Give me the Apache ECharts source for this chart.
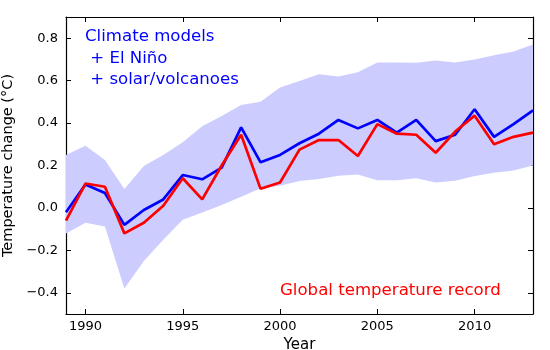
<!DOCTYPE html>
<html>
  <head>
    <title></title>
    <meta charset="UTF-8" />
    <script src="https://cdn.jsdelivr.net/npm/echarts@6/dist/echarts.min.js"></script>
  </head>
  <body style="margin:0">
    <div id="main"></div>
    <script>
      const width = 550;
      const height = 350;
      const main = document.getElementById('main');
      main.style.width = `${width}px`;
      main.style.height = `${height}px`;

      const years = [1989, 1990, 1991, 1992, 1993, 1994, 1995, 1996, 1997, 1998, 1999, 2000,
        2001, 2002, 2003, 2004, 2005, 2006, 2007, 2008, 2009, 2010, 2011, 2012, 2013];
      const models = [-0.02, 0.11, 0.07, -0.08, -0.01, 0.04, 0.155, 0.135, 0.19, 0.38, 0.215, 0.25,
        0.305, 0.35, 0.415, 0.375, 0.415, 0.355, 0.415, 0.315, 0.345, 0.465, 0.335, 0.395, 0.46];
      const observed = [-0.06, 0.115, 0.1, -0.12, -0.07, 0.01, 0.14, 0.04, 0.2, 0.345, 0.09, 0.12,
        0.275, 0.32, 0.32, 0.245, 0.395, 0.35, 0.345, 0.26, 0.36, 0.435, 0.3, 0.335, 0.355];
      const bandLow = [-0.12, -0.07, -0.088, -0.38, -0.25, -0.15, -0.056, -0.022, 0.014, 0.053, 0.093, 0.105,
        0.127, 0.136, 0.152, 0.157, 0.13, 0.13, 0.14, 0.12, 0.128, 0.15, 0.166, 0.177, 0.2];
      const bandHigh = [0.25, 0.293, 0.226, 0.089, 0.198, 0.25, 0.31, 0.385, 0.433, 0.485, 0.5, 0.568,
        0.598, 0.63, 0.62, 0.64, 0.686, 0.686, 0.684, 0.695, 0.686, 0.70, 0.72, 0.737, 0.77];
      const xTicks = [1990, 1995, 2000, 2005, 2010];
      const yTicks = [-0.4, -0.2, 0.0, 0.2, 0.4, 0.6, 0.8];

      const font = 'DejaVu Sans';
      const pairs = (vals) => years.map((y, i) => [y, vals[i]]);

      const tickStyle = { show: true, inside: true, length: 5, lineStyle: { color: '#000' } };
      const axisBase = {
        type: 'value',
        axisLine: { show: true, onZero: false, lineStyle: { color: '#000', width: 1.2 } },
        splitLine: { show: false },
      };

      const myChart = echarts.init(main, null, { renderer: 'canvas' });
      const option = {
        backgroundColor: '#fff',
        animation: false,
        grid: { left: 66, right: 17, top: 17, bottom: 36, containLabel: false, outerBoundsMode: 'none' },
        xAxis: [
          {
            ...axisBase,
            min: 1989,
            max: 2013,
            name: 'Year',
            nameLocation: 'middle',
            nameGap: 20,
            nameTextStyle: { fontFamily: font, fontSize: 15, color: '#000' },
            axisTick: { ...tickStyle, customValues: xTicks },
            axisLabel: {
              customValues: xTicks,
              fontFamily: font,
              fontSize: 13,
              color: '#000',
              margin: 6,
              formatter: (v) => String(v),
            },
          },
          {
            ...axisBase,
            position: 'top',
            min: 1989,
            max: 2013,
            axisTick: { ...tickStyle, customValues: xTicks },
            axisLabel: { show: false },
          },
        ],
        yAxis: [
          {
            ...axisBase,
            min: -0.5,
            max: 0.9,
            name: 'Temperature change (°C)',
            nameLocation: 'middle',
            nameGap: 42,
            nameTextStyle: { fontFamily: font, fontSize: 14.5, color: '#000' },
            axisTick: { ...tickStyle, customValues: yTicks },
            axisLabel: {
              customValues: yTicks,
              fontFamily: font,
              fontSize: 13,
              color: '#000',
              margin: 8,
              formatter: (v) => v.toFixed(1).replace('-', '\u2212'),
            },
          },
          {
            ...axisBase,
            position: 'right',
            min: -0.5,
            max: 0.9,
            axisTick: { ...tickStyle, customValues: yTicks },
            axisLabel: { show: false },
          },
        ],
        series: [
          {
            type: 'custom',
            silent: true,
            data: [0],
            renderItem: (params, api) => {
              const top = years.map((y, i) => api.coord([y, bandHigh[i]]));
              const bottom = years.map((y, i) => api.coord([y, bandLow[i]])).reverse();
              return {
                type: 'polygon',
                shape: { points: top.concat(bottom) },
                style: { fill: '#ccccff' },
              };
            },
            z: 1,
          },
          {
            type: 'line',
            data: pairs(models),
            symbol: 'none',
            lineStyle: { color: '#0000ff', width: 2.7 },
            z: 3,
          },
          {
            type: 'line',
            data: pairs(observed),
            symbol: 'none',
            lineStyle: { color: '#ff0000', width: 2.7 },
            z: 4,
          },
        ],
        graphic: [
          {
            type: 'text',
            left: 85,
            top: 26,
            style: {
              text: 'Climate models\n + El Niño\n + solar/volcanoes',
              fill: '#0000ff',
              font: `16.6px "${font}"`,
              lineHeight: 21.5,
            },
          },
          {
            type: 'text',
            left: 280,
            top: 282,
            style: {
              text: 'Global temperature record',
              fill: '#ff0000',
              font: `16.6px "${font}"`,
            },
          },
        ],
      };
      myChart.setOption(option);
    </script>
  </body>
</html>
